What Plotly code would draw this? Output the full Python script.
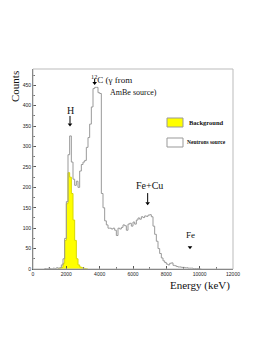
import plotly.graph_objects as go

# Bin start energies (keV), 100 keV bins
neutron_E = list(range(700, 10100, 100))
neutron_counts = [
    1, 0, 2, 1, 0, 2, 1, 3, 2, 3,          # 700-1600
    10, 25, 75, 165, 280, 326, 262, 220,    # 1700-2400
    205, 215, 200, 240, 256, 262, 266, 298, # 2500-3200
    322, 355, 397, 442, 445, 445, 432, 430, # 3300-4000
    185, 150, 118, 108, 100, 100, 98, 100,  # 4100-4800
    95, 82, 100, 98, 102, 108, 106, 95,     # 4900-5600
    110, 112, 105, 115, 110, 120, 125, 122, # 5700-6400
    128, 126, 130, 129, 132, 133, 128, 105, # 6500-7200
    85, 68, 50, 38, 27, 20, 16, 12,         # 7300-8000
    10, 14, 15, 9, 8, 6, 5, 5,              # 8100-8800
    4, 4, 3, 3, 2, 2, 2, 1, 1, 1, 1, 0      # 8900-10000
]

background_E = list(range(1500, 3300, 100))
background_counts = [1, 2, 4, 14, 70, 160, 236, 225, 185, 120, 70, 25, 10, 5, 3, 2, 1, 0]

# Peak markers (energy keV, arrow tip counts, arrow tail counts)
marker_E = [2220, 3700, 6880, 9420]
marker_tip = [350, 452, 157, 49]
marker_tail = [375, 466, 186, 49]

BIN = 100

def steps(starts, counts):
    xs = [starts[0]] + list(starts) + [starts[-1] + BIN]
    ys = [0] + list(counts) + [0]
    return xs, ys

bx, by = steps(background_E, background_counts)
nx, ny = steps(neutron_E, neutron_counts)

fig = go.Figure()
fig.add_trace(go.Scatter(x=bx, y=by, mode="lines", line_shape="hv",
                         line=dict(color="#d8d800", width=1),
                         fill="tozeroy", fillcolor="#ffff00",
                         name="Background", showlegend=False))
fig.add_trace(go.Scatter(x=nx, y=ny, mode="lines", line_shape="hv",
                         line=dict(color="#999999", width=1),
                         name="Neutrons source", showlegend=False))

# arrow shafts
for e, tip, tail in zip(marker_E, marker_tip, marker_tail):
    if tail != tip:
        fig.add_trace(go.Scatter(x=[e, e], y=[tail, tip + 6], mode="lines",
                                 line=dict(color="black", width=1),
                                 showlegend=False, hoverinfo="skip"))
# arrow heads
fig.add_trace(go.Scatter(x=marker_E, y=[t + 4 for t in marker_tip], mode="markers",
                         marker=dict(symbol="triangle-down", size=4, color="black"),
                         showlegend=False))

serif = "Liberation Serif"
tickfont = dict(family="Liberation Sans", size=5, color="#222")

fig.update_layout(
    width=252, height=338,
    margin=dict(l=25, r=27, t=61, b=77),
    paper_bgcolor="white", plot_bgcolor="white",
    xaxis=dict(range=[0, 12000], tickvals=[0, 2000, 4000, 6000, 8000, 10000, 12000],
               ticktext=["0", "2000", "4000", "6000", "8000", "10000", "12000"],
               ticks="inside", ticklen=3, tickcolor="#555", tickfont=tickfont,
               minor=dict(dtick=1000, ticks="inside", ticklen=2, tickcolor="#777"),
               showline=True, linecolor="#555", linewidth=1, showgrid=False, zeroline=False),
    yaxis=dict(range=[0, 490], dtick=50, ticks="inside", ticklen=3, tickcolor="#555",
               tickfont=tickfont,
               minor=dict(dtick=25, ticks="inside", ticklen=2, tickcolor="#777"),
               showline=True, linecolor="#555", linewidth=1, showgrid=False, zeroline=False),
    shapes=[
        dict(type="rect", xref="paper", yref="paper", x0=0, x1=1, y0=0, y1=1,
             line=dict(color="#bbbbbb", width=1)),
        dict(type="rect", xref="paper", yref="paper", x0=0.67, x1=0.75, y0=0.71, y1=0.755,
             fillcolor="#ffff00", line=dict(color="#999999", width=1)),
        dict(type="rect", xref="paper", yref="paper", x0=0.67, x1=0.75, y0=0.61, y1=0.655,
             fillcolor="white", line=dict(color="#999999", width=1)),
    ],
)

ann = [
    dict(text="Counts", x=-0.09, y=0.91, textangle=-90, size=11),
    dict(text="Energy (keV)", x=0.995, y=-0.08, size=11, xanchor="right"),
    dict(text="H", x=0.185, y=0.795, size=10),
    dict(text="<sup>12</sup>C (γ from", x=0.282, y=0.95, size=9, xanchor="left"),
    dict(text="AmBe source)", x=0.375, y=0.885, size=8, xanchor="left"),
    dict(text="Fe+Cu", x=0.58, y=0.42, size=10),
    dict(text="Fe", x=0.785, y=0.17, size=9),
    dict(text="<b>Background</b>", x=0.77, y=0.733, size=6.5, xanchor="left"),
    dict(text="<b>Neutrons source</b>", x=0.762, y=0.633, size=5.5, xanchor="left"),
]
for a in ann:
    fig.add_annotation(text=a["text"], xref="paper", yref="paper", x=a["x"], y=a["y"],
                       showarrow=False, xanchor=a.get("xanchor", "center"), yanchor="middle",
                       textangle=a.get("textangle", 0),
                       font=dict(family=serif, size=a["size"], color="#111"))

fig.write_html("out.html")
